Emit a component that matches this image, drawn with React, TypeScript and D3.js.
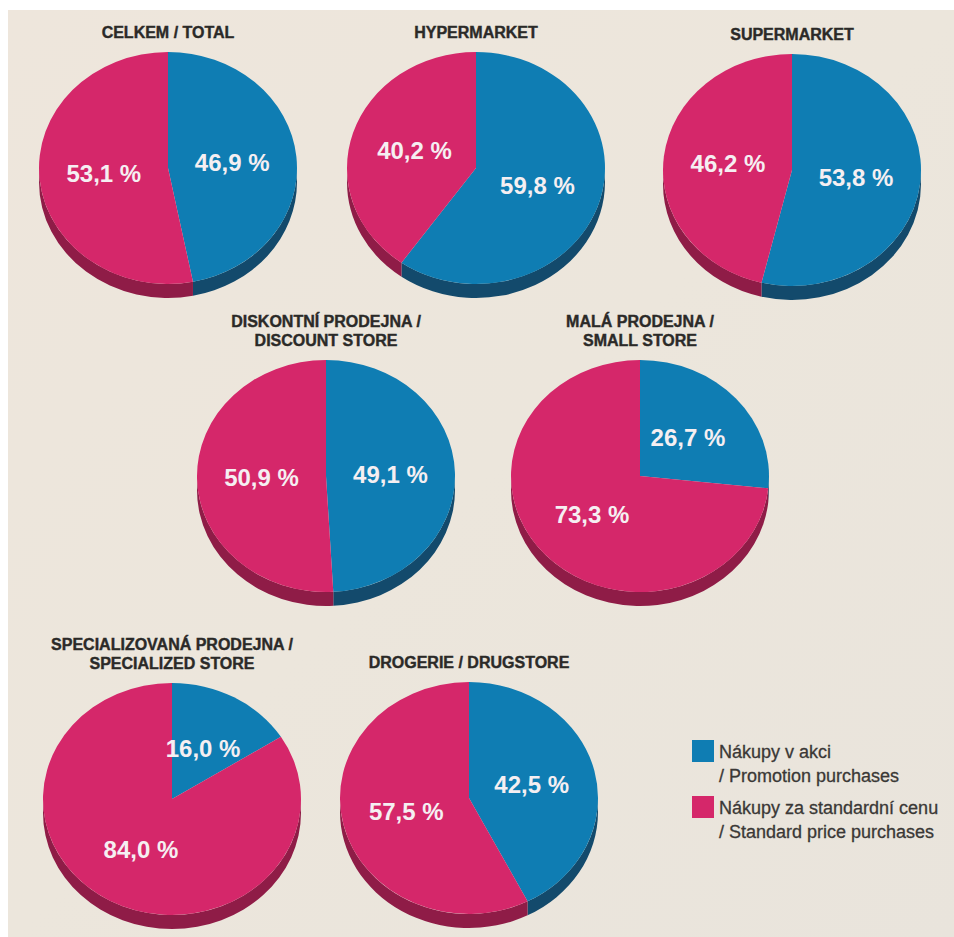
import React from "react";
import * as d3 from "d3";

// ---- data ----
const categoryTitles: string[][] = [
  ["CELKEM / TOTAL"],
  ["HYPERMARKET"],
  ["SUPERMARKET"],
  ["DISKONTNÍ PRODEJNA /", "DISCOUNT STORE"],
  ["MALÁ PRODEJNA /", "SMALL STORE"],
  ["SPECIALIZOVANÁ PRODEJNA /", "SPECIALIZED STORE"],
  ["DROGERIE / DRUGSTORE"],
];
const promotionShare = [46.9, 59.8, 53.8, 49.1, 26.7, 16.0, 42.5];
const standardShare = [53.1, 40.2, 46.2, 50.9, 73.3, 84.0, 57.5];
const seriesKeys = ["promotion", "standard"];
const legendLines: string[][] = [
  ["Nákupy v akci", "/ Promotion purchases"],
  ["Nákupy za standardní cenu", "/ Standard price purchases"],
];

// ---- layout / style ----
const W = 954;
const H = 937;
const pieCenters: [number, number][] = [
  [168, 168], [476, 168], [792, 170],
  [326, 476], [640, 476],
  [172, 799], [469, 798],
];
const RX = 129;
const RY = 116;
const DEPTH = 14;
const topColor = d3.scaleOrdinal<string, string>().domain(seriesKeys).range(["#0f7db3", "#d5276a"]);
const sideColor = d3.scaleOrdinal<string, string>().domain(seriesKeys).range(["#134a6c", "#8f1c47"]);
const fmt = (v: number) => v.toFixed(1).replace(".", ",") + " %";

function sidePath(cx: number, cy: number, a0: number, a1: number) {
  const px = (a: number) => cx + RX * Math.sin(a);
  const py = (a: number) => cy - RY * Math.cos(a);
  const x0 = px(a0), y0 = py(a0), x1 = px(a1), y1 = py(a1);
  return `M${x0},${y0} A${RX},${RY} 0 0 1 ${x1},${y1} L${x1},${y1 + DEPTH} A${RX},${RY} 0 0 0 ${x0},${y0 + DEPTH} Z`;
}

export default function App() {
  const pie = d3
    .pie<{ key: string; value: number }>()
    .sort(null)
    .value((d) => d.value)
    .startAngle(0)
    .endAngle(2 * Math.PI);
  const arc = d3.arc<d3.PieArcDatum<{ key: string; value: number }>>().innerRadius(0).outerRadius(RX);

  const titleFont = "'Liberation Sans', Arial, sans-serif";

  return (
    <svg
      width={W}
      height={H}
      style={{ position: "absolute", left: 0, top: 0, display: "block" }}
      viewBox={`0 0 ${W} ${H}`}
    >
      <defs>
        <linearGradient id="bg" x1="0" y1="0" x2="1" y2="1">
          <stop offset="0" stopColor="#eee6dc" />
          <stop offset="0.5" stopColor="#ece6dc" />
          <stop offset="1" stopColor="#e9e4dc" />
        </linearGradient>
      </defs>
      <rect x={0} y={0} width={W} height={H} fill="#ffffff" />
      <rect x={8} y={10} width={W - 8} height={H - 10} fill="url(#bg)" />

      {promotionShare.map((p, i) => {
        const [cx, cy] = pieCenters[i];
        const arcs = pie([
          { key: "promotion", value: p },
          { key: "standard", value: standardShare[i] },
        ]);
        const lines = categoryTitles[i];
        const lastBase = cy - 130;
        return (
          <g key={i}>
            {arcs.map((a) => {
              const s = Math.max(a.startAngle, Math.PI / 2);
              const e = Math.min(a.endAngle, (3 * Math.PI) / 2);
              if (e <= s) return null;
              return <path key={"s" + a.data.key} d={sidePath(cx, cy, s, e)} fill={sideColor(a.data.key)} />;
            })}
            <g transform={`translate(${cx},${cy}) scale(1,${RY / RX})`}>
              {arcs.map((a) => (
                <path key={a.data.key} d={arc(a) || ""} fill={topColor(a.data.key)} />
              ))}
            </g>
            {arcs.map((a) => {
              const [lx, ly] = arc.centroid(a);
              return (
                <text
                  key={"l" + a.data.key}
                  x={cx + lx}
                  y={cy + (ly * RY) / RX}
                  dy="0.36em"
                  textAnchor="middle"
                  fontFamily={titleFont}
                  fontWeight="bold"
                  fontSize={24}
                  fill="#f5eff2"
                >
                  {fmt(a.data.value)}
                </text>
              );
            })}
            {lines.map((t, j) => (
              <text
                key={"t" + j}
                x={cx}
                y={lastBase - (lines.length - 1 - j) * 19}
                textAnchor="middle"
                fontFamily={titleFont}
                fontWeight="bold"
                fontSize={16}
                fill="#2b2a28"
                stroke="#2b2a28"
                strokeWidth={0.4}
              >
                {t}
              </text>
            ))}
          </g>
        );
      })}

      {seriesKeys.map((k, i) => (
        <g key={k} transform={`translate(692,${740 + i * 56})`}>
          <rect x={0} y={0} width={22} height={22} fill={topColor(k)} />
          {legendLines[i].map((t, j) => (
            <text
              key={j}
              x={27}
              y={18 + j * 24}
              fontFamily={titleFont}
              fontSize={18}
              fill="#3a3836"
              stroke="#3a3836"
              strokeWidth={0.3}
            >
              {t}
            </text>
          ))}
        </g>
      ))}
    </svg>
  );
}
